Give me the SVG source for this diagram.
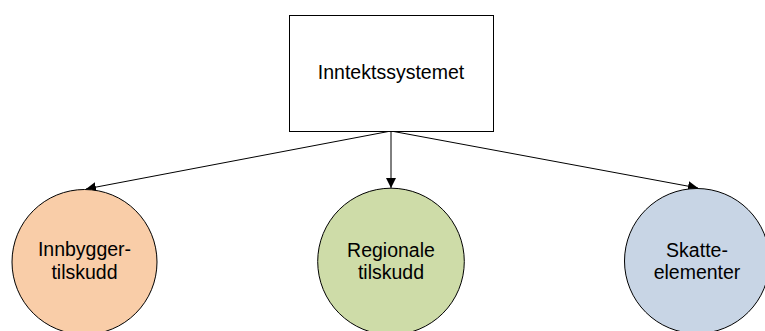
<svg xmlns="http://www.w3.org/2000/svg" width="765" height="331" viewBox="0 0 765 331">
<style>
  .node { stroke: #000; stroke-width: 1; }
  .lbl { font-family: "Liberation Sans", Arial, sans-serif; font-size: 19.5px; fill: #000; text-anchor: middle; }
  .conn { stroke: #000; stroke-width: 1; fill: none; marker-end: url(#arrow); }
</style>
<defs>
  <marker id="arrow" viewBox="0 0 10 10" refX="10" refY="5" markerWidth="10" markerHeight="10" markerUnits="userSpaceOnUse" orient="auto">
    <path d="M0,0 L10,5 L0,10 Z" fill="#000"/>
  </marker>
</defs>
<rect width="765" height="331" fill="#fff"/>
<g id="connectors">
  <line class="conn" x1="391" y1="131" x2="86" y2="189"/>
  <line class="conn" x1="391" y1="131" x2="391" y2="188"/>
  <line class="conn" x1="391" y1="131" x2="698" y2="188"/>
</g>
<g id="inntektssystemet">
  <rect class="node" x="289.5" y="15.5" width="204" height="116" fill="#fff"/>
  <text class="lbl" x="391" y="79">Inntektssystemet</text>
</g>
<g id="innbyggertilskudd">
  <circle class="node" cx="84.5" cy="262" r="72.5" fill="#F9CDA8"/>
  <text class="lbl" x="84.5" y="256">Innbygger-</text>
  <text class="lbl" x="84.5" y="279">tilskudd</text>
</g>
<g id="regionale">
  <circle class="node" cx="391" cy="261.5" r="73.3" fill="#CEDCA8"/>
  <text class="lbl" x="391" y="256.5">Regionale</text>
  <text class="lbl" x="391" y="279">tilskudd</text>
</g>
<g id="skatteelementer">
  <circle class="node" cx="697" cy="261" r="72.5" fill="#C8D5E5"/>
  <text class="lbl" x="697" y="256.5">Skatte-</text>
  <text class="lbl" x="697" y="279">elementer</text>
</g>
</svg>
